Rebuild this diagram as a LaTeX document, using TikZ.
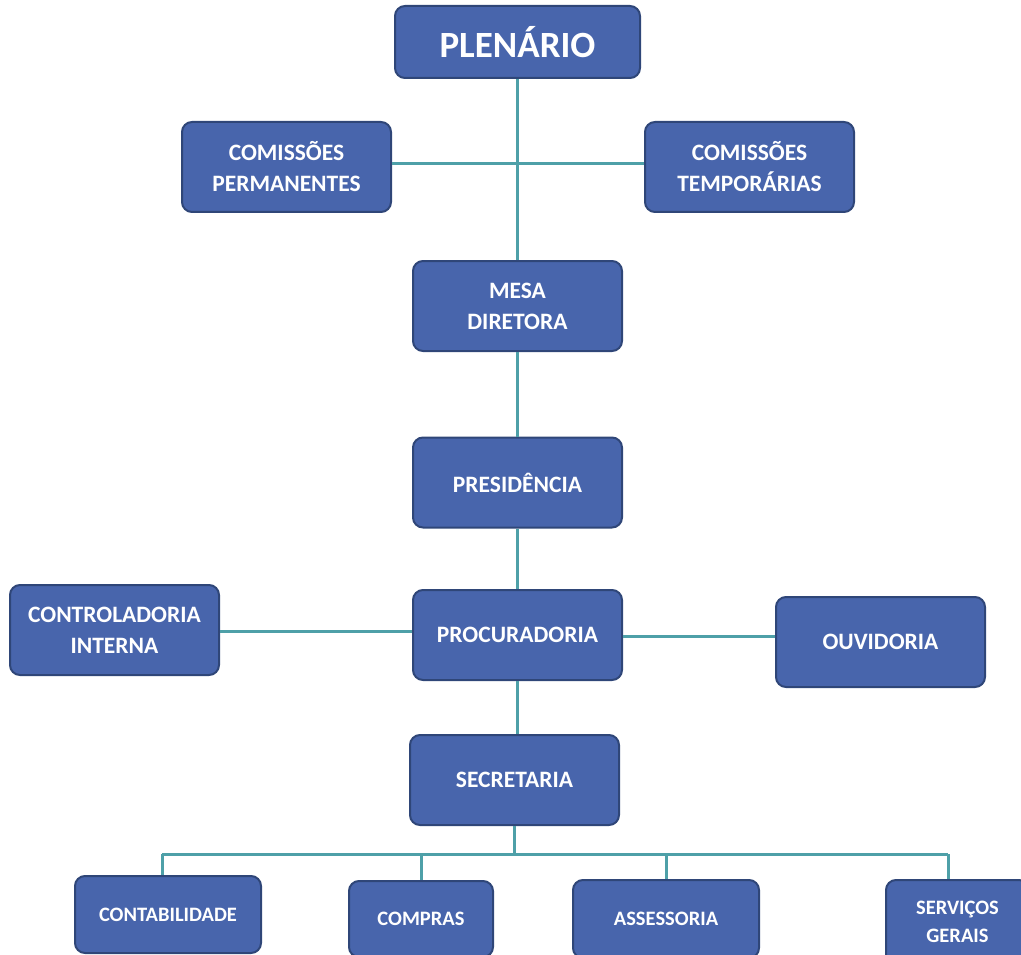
\documentclass[tikz,border=0pt]{standalone}
\usepackage{fontspec}
\setmainfont{Carlito}
\definecolor{boxfill}{RGB}{72,101,172}
\definecolor{boxedge}{RGB}{47,70,120}
\definecolor{linkcol}{RGB}{78,160,168}
\begin{document}
\begin{tikzpicture}[x=1pt,y=-1pt,
  orgbox/.style={draw=boxedge,line width=2pt,fill=boxfill,rounded corners=10pt,
    text=white,font=\bfseries\fontsize{23.5}{31}\selectfont,align=center,
    inner sep=0pt,minimum width=209pt,minimum height=90pt},
  smallbox/.style={orgbox,font=\bfseries\fontsize{20.5}{28}\selectfont},
  link/.style={draw=linkcol,line width=3pt}]
\useasboundingbox (0,0) rectangle (1021,955);
\clip (0,0) rectangle (1021,955);
\node[orgbox,minimum width=245pt,minimum height=72pt,font=\bfseries\fontsize{37}{42}\selectfont] (plen) at (517.5,42) {PLENÁRIO};
\node[orgbox] (cperm) at (286.5,167) {COMISSÕES\\PERMANENTES};
\node[orgbox] (ctemp) at (749.5,167) {COMISSÕES\\TEMPORÁRIAS};
\node[orgbox] (mesa) at (517.5,306) {MESA\\DIRETORA};
\node[orgbox] (pres) at (517.5,482.5) {PRESIDÊNCIA};
\node[orgbox] (ctrl) at (114.5,630) {CONTROLADORIA\\INTERNA};
\node[orgbox] (proc) at (517.5,635) {PROCURADORIA};
\node[orgbox] (ouv) at (880.5,642) {OUVIDORIA};
\node[orgbox] (sec) at (514.5,780) {SECRETARIA};
\node[smallbox,minimum width=186pt,minimum height=77pt] (contab) at (168,914.5) {CONTABILIDADE};
\node[smallbox,minimum width=144pt,minimum height=76pt] (compras) at (421,919) {COMPRAS};
\node[smallbox,minimum width=186pt,minimum height=78pt] (assess) at (666,919) {ASSESSORIA};
\node[smallbox,minimum width=143pt,minimum height=84pt] (serv) at (957.5,922) {SERVIÇOS\\GERAIS};
\coordinate (busL) at (162,854);
\coordinate (busR) at (948,854);
% connectors
\draw[link] (plen.south) -- (mesa.north);
\draw[link] (cperm.east |- 0,164) -- (ctemp.west |- 0,164);
\draw[link] (mesa.south) -- (pres.north);
\draw[link] (pres.south) -- (proc.north);
\draw[link] (ctrl.east |- 0,631) -- (proc.west |- 0,631);
\draw[link] (proc.east |- 0,636) -- (ouv.west |- 0,636);
\draw[link] (proc.south) -- (proc.south |- sec.north);
\draw[link] (sec.south) -- (sec.south |- busL);
\draw[link] (busL) -- (busR);
\draw[link] (busL) -- (busL |- contab.north);
\draw[link] (compras.north |- busL) -- (compras.north);
\draw[link] (assess.north |- busL) -- (assess.north);
\draw[link] (busR) -- (busR |- serv.north);
\end{tikzpicture}
\end{document}
